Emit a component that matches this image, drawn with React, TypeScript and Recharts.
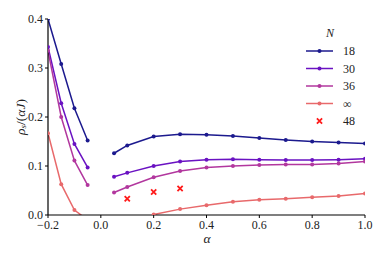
import React from "react";
import { LineChart, Line, XAxis, YAxis } from "recharts";

// alpha grid; 0 is a gap row so the lines break there
const alphas = [-0.2, -0.15, -0.1, -0.05, 0, 0.05, 0.1, 0.2, 0.3, 0.4, 0.5, 0.6, 0.7, 0.8, 0.9, 1.0];
const n18 = [0.4, 0.308, 0.218, 0.152, null, 0.126, 0.142, 0.16, 0.165, 0.164, 0.161, 0.157, 0.153, 0.15, 0.148, 0.146];
const n30 = [0.343, 0.228, 0.145, 0.097, null, 0.078, 0.086, 0.1, 0.109, 0.113, 0.114, 0.113, 0.112, 0.112, 0.113, 0.115];
const n36 = [0.335, 0.2, 0.111, 0.061, null, 0.046, 0.057, 0.077, 0.09, 0.097, 0.1, 0.102, 0.103, 0.103, 0.105, 0.109];
const nInf = [0.167, 0.063, 0.01, -0.01, null, null, null, 0.001, 0.012, 0.02, 0.027, 0.031, 0.033, 0.036, 0.039, 0.044];
const n48 = [null, null, null, null, null, null, 0.033, 0.047, 0.054, null, null, null, null, null, null, null];

const xTicks = [-0.2, 0, 0.2, 0.4, 0.6, 0.8, 1.0];
const yTicks = [0, 0.1, 0.2, 0.3, 0.4];

const series = [
  { key: "n18", name: "18", color: "#1c1a8e" },
  { key: "n30", name: "30", color: "#6a12c2" },
  { key: "n36", name: "36", color: "#b2379e" },
  { key: "nInf", name: "\u221e", color: "#e8696b" },
];
const crossColor = "#ff1a1a";

const data = alphas.map((a, i) => ({
  alpha: a,
  n18: n18[i],
  n30: n30[i],
  n36: n36[i],
  nInf: nInf[i],
  n48: n48[i],
}));

const font = "Liberation Serif, DejaVu Serif, serif";
const fmt = (v: number) => (v < 0 ? "\u2212" + Math.abs(v).toFixed(1) : v.toFixed(1));

const makeDot = (color: string) => (p: any) => {
  if (p.value == null || p.value < 0 || p.cy == null) return <g key={p.key} />;
  return <circle key={p.key} cx={p.cx} cy={p.cy} r={2} fill={color} stroke="none" />;
};

const crossDot = (p: any) => {
  if (p.value == null || p.cy == null) return <g key={p.key} />;
  const s = 2.6;
  return (
    <path
      key={p.key}
      d={`M${p.cx - s},${p.cy - s}L${p.cx + s},${p.cy + s}M${p.cx - s},${p.cy + s}L${p.cx + s},${p.cy - s}`}
      stroke={crossColor}
      strokeWidth={1.8}
      fill="none"
    />
  );
};

function LegendBox() {
  const x0 = 306;
  const rows = [51, 68.5, 86, 103.5];
  return (
    <g style={{ fontFamily: font }} fontSize={12} fill="#222">
      <text x={330} y={33} textAnchor="middle" dominantBaseline="central" fontStyle="italic">
        N
      </text>
      {series.map((s, i) => (
        <g key={s.key}>
          <line x1={x0} x2={x0 + 27} y1={rows[i]} y2={rows[i]} stroke={s.color} strokeWidth={1.5} />
          <circle cx={x0 + 13.5} cy={rows[i]} r={2} fill={s.color} />
          <text x={343} y={rows[i]} dominantBaseline="central">
            {s.name}
          </text>
        </g>
      ))}
      {crossDot({ cx: x0 + 13.5, cy: 121, value: 1, key: "lx" })}
      <text x={343} y={121} dominantBaseline="central">
        48
      </text>
    </g>
  );
}

export default function App() {
  return (
    <div style={{ position: "absolute", left: 0, top: 0, background: "#fff", fontFamily: font }}>
      <LineChart
        width={387}
        height={258}
        data={data}
        margin={{ top: 19, right: 22, bottom: 0, left: 0 }}
        style={{ fontFamily: font }}
      >
        <XAxis
          xAxisId="b"
          dataKey="alpha"
          type="number"
          domain={[-0.2, 1]}
          ticks={xTicks}
          tickFormatter={fmt}
          allowDataOverflow
          height={43}
          tickSize={3}
          tickMargin={2}
          axisLine={{ stroke: "#000", strokeWidth: 1.2 }}
          tickLine={{ stroke: "#000" }}
          tick={{ fill: "#222", fontSize: 12, style: { fontFamily: font } }}
        />
        <XAxis
          xAxisId="t"
          orientation="top"
          dataKey="alpha"
          type="number"
          domain={[-0.2, 1]}
          ticks={xTicks}
          allowDataOverflow
          height={0}
          mirror
          tickSize={3}
          tick={false}
          axisLine={{ stroke: "#000", strokeWidth: 1.2 }}
          tickLine={{ stroke: "#000" }}
        />
        <YAxis
          yAxisId="l"
          type="number"
          domain={[0, 0.4]}
          ticks={yTicks}
          tickFormatter={fmt}
          allowDataOverflow
          width={48}
          tickSize={3}
          tickMargin={2}
          axisLine={{ stroke: "#000", strokeWidth: 1.2 }}
          tickLine={{ stroke: "#000" }}
          tick={{ fill: "#222", fontSize: 12, style: { fontFamily: font } }}
        />
        <YAxis
          yAxisId="r"
          orientation="right"
          type="number"
          domain={[0, 0.4]}
          ticks={yTicks}
          allowDataOverflow
          width={0}
          mirror
          tickSize={3}
          tick={false}
          axisLine={{ stroke: "#000", strokeWidth: 1.2 }}
          tickLine={{ stroke: "#000" }}
        />
        {series.map((s) => (
          <Line
            key={s.key}
            xAxisId="b"
            yAxisId="l"
            dataKey={s.key}
            stroke={s.color}
            strokeWidth={1.5}
            dot={makeDot(s.color)}
            activeDot={false}
            isAnimationActive={false}
            connectNulls={false}
          />
        ))}
        <Line
          xAxisId="b"
          yAxisId="l"
          dataKey="n48"
          stroke="none"
          dot={crossDot}
          activeDot={false}
          isAnimationActive={false}
          connectNulls={false}
        />
        <text
          transform="rotate(-90, 20, 117)"
          x={20}
          y={117}
          textAnchor="middle"
          dominantBaseline="central"
          style={{ fontFamily: font }}
          fontSize={13.5}
          fill="#222"
        >
          <tspan fontStyle="italic">{"\u03c1"}</tspan>
          <tspan fontStyle="italic" fontSize={9} dy={3}>s</tspan>
          <tspan dy={-3}>/(</tspan>
          <tspan fontStyle="italic">{"\u03b1J"}</tspan>
          <tspan>)</tspan>
        </text>
        <text
          x={207}
          y={238}
          textAnchor="middle"
          dominantBaseline="central"
          style={{ fontFamily: font }}
          fontSize={13.5}
          fontStyle="italic"
          fill="#222"
        >
          {"\u03b1"}
        </text>
        <LegendBox />
      </LineChart>
    </div>
  );
}
